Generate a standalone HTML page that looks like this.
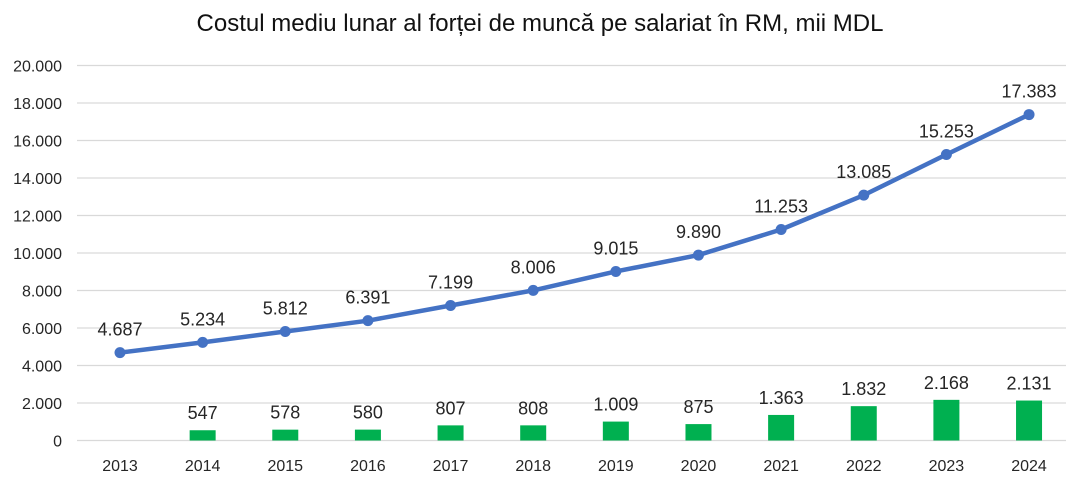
<!DOCTYPE html>
<html><head><meta charset="utf-8"><style>
body{margin:0;background:#fff}
text{font-family:"Liberation Sans",sans-serif;fill:#262626}
</style></head><body>
<svg width="1080" height="477" viewBox="0 0 1080 477" xmlns="http://www.w3.org/2000/svg">
<text x="540" y="31" text-anchor="middle" style="font-size:24px;fill:#111">Costul mediu lunar al forței de muncă pe salariat în RM, mii MDL</text>
<g id="g"></g>
</svg>
<script>
const NS="http://www.w3.org/2000/svg",g=document.getElementById('g');
function el(t,a,txt){const e=document.createElementNS(NS,t);for(const k in a)e.setAttribute(k,a[k]);if(txt!=null)e.textContent=txt;g.appendChild(e);return e;}
const Y=v=>440.5-v*0.01875, X=i=>120+i*82.64;
for(let v=0;v<=20000;v+=2000){const y=Y(v);
 el('line',{x1:77,x2:1066,y1:y,y2:y,stroke:'#d9d9d9','stroke-width':1.2});
 el('text',{x:62,y:y+6,'text-anchor':'end','font-size':16},v==0?'0':(v/1000).toFixed(3));}
const L=[4687,5234,5812,6391,7199,8006,9015,9890,11253,13085,15253,17383];
const B=[null,547,578,580,807,808,1009,875,1363,1832,2168,2131];
const fmt=v=>v>=1000?(Math.floor(v/1000)+'.'+String(v%1000).padStart(3,'0')):String(v);
for(let i=0;i<12;i++){
 el('text',{x:X(i),y:471,'text-anchor':'middle','font-size':16},2013+i);
 if(B[i]!=null){const y=Y(B[i]);
  el('rect',{x:X(i)-13,y:y,width:26,height:440.5-y,fill:'#00b050'});
  el('text',{x:X(i),y:y-11,'text-anchor':'middle','font-size':18},fmt(B[i]));}
}
el('polyline',{points:L.map((v,i)=>X(i)+','+Y(v)).join(' '),fill:'none',stroke:'#4472c4','stroke-width':4.5,'stroke-linejoin':'round'});
L.forEach((v,i)=>{el('circle',{cx:X(i),cy:Y(v),r:5.5,fill:'#4472c4'});
 el('text',{x:X(i),y:Y(v)-17,'text-anchor':'middle','font-size':18},fmt(v));});
</script>
</body></html>
